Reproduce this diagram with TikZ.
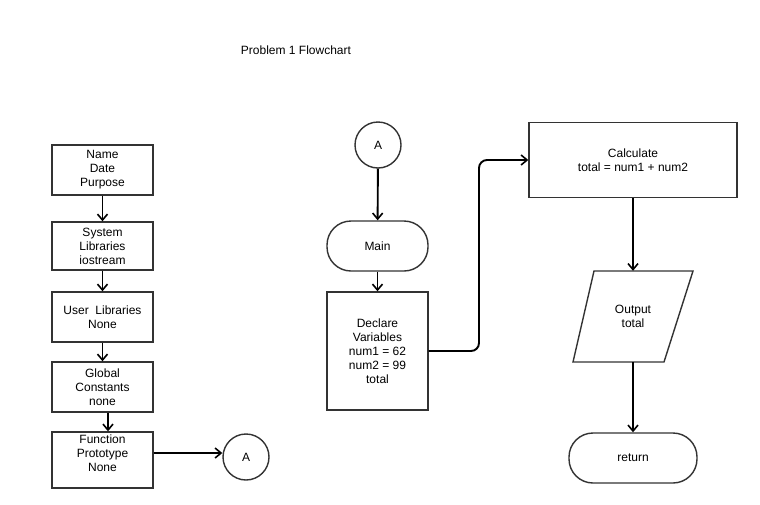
\documentclass[tikz,border=0pt]{standalone}
\usepackage{fontspec}
\setmainfont{Liberation Sans}
\usetikzlibrary{arrows.meta}
\begin{document}
\begin{tikzpicture}[x=1pt,y=-1pt,
  every node/.style={font=\fontsize{12}{14}\selectfont, align=center, inner sep=0pt},
  boxx/.style={draw=black!80, line width=1.4pt, rectangle},
  term/.style={draw=black!80, line width=1.4pt, rectangle, rounded corners=24pt},
  conn/.style={draw=black!80, line width=1.4pt, circle, minimum size=46pt},
  arr/.style={line width=1.9pt, black, -{Straight Barb[length=6pt,width=10pt,line width=1.6pt]}}
]
\useasboundingbox[fill=white] (0,0) rectangle (760,504);

\node (title) at (296,50) {Problem 1 Flowchart};

% left column
\node[boxx, minimum width=101pt, minimum height=50pt] (b1) at (102.5,170) {Name\\Date\\Purpose};
\node[boxx, minimum width=101pt, minimum height=48pt] (b2) at (102.5,246) {System\\Libraries\\iostream};
\node[boxx, minimum width=101pt, minimum height=50pt] (b3) at (102.5,317) {User\ \ Libraries\\None};
\node[boxx, minimum width=101pt, minimum height=50pt] (b4) at (102.5,387) {Global\\Constants\\none};
\node[boxx, minimum width=101pt, minimum height=56pt] (b5) at (102.5,460) {};
\node (b5t) at (102.5,453.5) {Function\\Prototype\\None};
\node[conn] (a1) at (246,457) {A};

\draw[arr] (b1) -- (b2);
\draw[arr] (b2) -- (b3);
\draw[arr] (b3) -- (b4);
\draw[arr] ([xshift=5.5pt]b4.south) -- ([xshift=5.5pt]b5.north);
\draw[arr] ([yshift=7pt]b5.east) -- ([yshift=7pt]b5.east -| a1.west);

% right part
\node[conn] (a2) at (378,145) {A};
\node[term, minimum width=101pt, minimum height=50pt] (main) at (377.5,246) {Main};
\node[boxx, minimum width=101pt, minimum height=118pt] (decl) at (377.5,351) {Declare\\Variables\\num1 = 62\\num2 = 99\\total};
\node[boxx, minimum width=208pt, minimum height=75pt] (calc) at (633,160) {Calculate\\total = num1 + num2};
\draw[draw=black!80, line width=1.4pt, line join=miter] (594,271) -- (693,271) -- (664,362) -- (573,362) -- cycle;
\node[minimum width=80pt, minimum height=91pt] (out) at (633,316.5) {Output\\total};
\node[term, minimum width=128pt, minimum height=50pt] (ret) at (633,458) {return};
\coordinate (j) at (479,160);

\draw[arr] (a2) -- (main);
\draw[arr] (main) -- (decl);
\draw[arr, rounded corners=8pt] (decl.east) -| (j) -- (calc.west);
\draw[arr] (calc) -- (out);
\draw[arr] (out) -- (ret);
\end{tikzpicture}
\end{document}
